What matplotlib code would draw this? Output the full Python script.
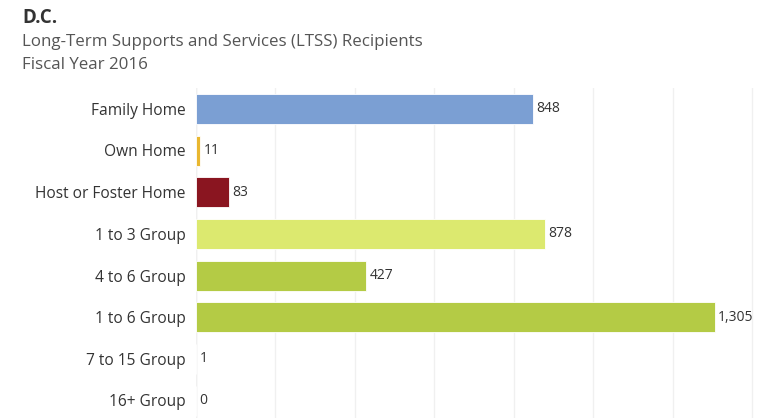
import matplotlib.pyplot as plt

plt.rcParams['font.family'] = ['Open Sans', 'DejaVu Sans']

categories = ['Family Home', 'Own Home', 'Host or Foster Home', '1 to 3 Group',
              '4 to 6 Group', '1 to 6 Group', '7 to 15 Group', '16+ Group']
recipients = [848, 11, 83, 878, 427, 1305, 1, 0]
colors = ['#7b9fd3', '#e9b730', '#8a1520', '#dce96f', '#b4cb45', '#b4cb45', '#b4cb45', '#b4cb45']

fig = plt.figure(figsize=(7.6, 4.18), dpi=100)
ax = fig.add_axes([196 / 760, 0, 1 - 196 / 760, (418 - 88) / 418])

y = list(range(len(categories)))
ax.barh(y, recipients, height=0.72, color=colors, edgecolor='white', linewidth=0.6, zorder=2)

for yi, v in zip(y, recipients):
    ax.text(v + 9, yi, f'{v:,}', va='center', ha='left', fontsize=10, color='#333333')

ax.set_ylim(7.42, -0.5)
ax.set_xlim(0, 1419)
ax.set_yticks(y)
ax.set_yticklabels(categories, fontsize=11.2, color='#333333')
ax.set_xticks(range(0, 1401, 200))
ax.xaxis.grid(True, color='#f0f0f0', linewidth=1, zorder=0)
ax.tick_params(axis='x', bottom=False, labelbottom=False)
ax.tick_params(axis='y', left=False, pad=4)
for s in ax.spines.values():
    s.set_visible(False)
ax.axvline(0, color='#e6e6e6', linewidth=1, zorder=1)

fig.text(22 / 760, 1 - 18 / 418, 'D.C.', fontsize=13.5, fontweight='bold', color='#333333', va='center')
fig.text(22 / 760, 1 - 42 / 418, 'Long-Term Supports and Services (LTSS) Recipients',
         fontsize=12.2, color='#555555', va='center')
fig.text(22 / 760, 1 - 65 / 418, 'Fiscal Year 2016', fontsize=12.2, color='#555555', va='center')

fig.savefig('out.png', dpi=100)
